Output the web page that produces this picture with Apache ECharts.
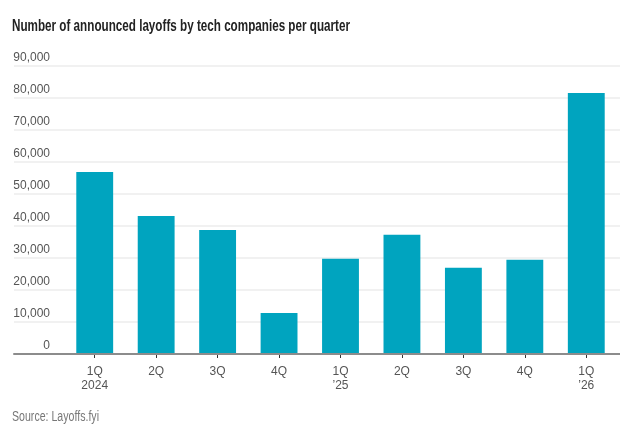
<!DOCTYPE html>
<html><head><meta charset="utf-8">
<script src="https://cdn.jsdelivr.net/npm/echarts@6/dist/echarts.min.js"></script>
<style>html,body{margin:0;padding:0;background:#fff}#c{width:620px;height:435px}</style>
</head><body><div id="c"></div>
<script>
const categories = ['1Q\n2024','2Q','3Q','4Q','1Q\n\u201925','2Q','3Q','4Q','1Q\n\u201926'];
const layoffs = [56800, 43100, 38700, 12800, 29700, 37200, 26900, 29400, 81500];
const yTicks = [0,10000,20000,30000,40000,50000,60000,70000,80000,90000];
const titleText = 'Number of announced layoffs by tech companies per quarter';
const sourceText = 'Source: Layoffs.fyi';

const FONT = '"Liberation Sans", Arial, sans-serif';
const ctx = document.createElement('canvas').getContext('2d');
function fitScale(text, font, w){ ctx.font = font; return w / ctx.measureText(text).width; }
const titleFont = 'bold 17px ' + FONT;
const srcFont = '14px ' + FONT;

const chart = echarts.init(document.getElementById('c'), null, {renderer:'canvas'});
const TOP = 65.7, BOTTOM = 81;
chart.setOption({
  animation:false,
  backgroundColor:'#fff',
  graphic:[
    {type:'text', x:12, y:18, scaleX:fitScale(titleText, titleFont, 338),
     style:{text:titleText, font:titleFont, fill:'#222', verticalAlign:'top'}},
    {type:'text', x:12, y:410, scaleX:fitScale(sourceText, srcFont, 87),
     style:{text:sourceText, font:srcFont, fill:'#777', verticalAlign:'top'}}
  ],
  grid:[
    {left:14, right:0, top:TOP, bottom:BOTTOM},
    {left:64, right:3, top:TOP, bottom:BOTTOM}
  ],
  xAxis:[
    {gridIndex:0, type:'value', min:0, max:1, axisLabel:{show:false}, axisTick:{show:false},
     splitLine:{show:false}, axisLine:{show:true, onZero:true, lineStyle:{color:'#8c8c8c', width:2}}, z:5},
    {gridIndex:1, type:'category', data:categories,
     axisLine:{show:false},
     axisTick:{show:true, alignWithLabel:true, length:4, lineStyle:{color:'#333', width:1}},
     axisLabel:{fontFamily:FONT, fontSize:12, color:'#555', lineHeight:14, margin:11, interval:0}}
  ],
  yAxis:[
    {gridIndex:0, type:'value', min:0, max:90000, interval:10000,
     axisLine:{show:false}, axisTick:{show:false},
     splitLine:{show:true, lineStyle:{color:'#ececec', width:1.5}},
     axisLabel:{fontFamily:FONT, fontSize:12, color:'#555', margin:-36, align:'right', verticalAlign:'bottom', padding:[0,0,2,0],
       formatter:v=>yTicks.includes(v)?v.toLocaleString('en-US'):''}},
    {gridIndex:1, type:'value', min:0, max:90000, interval:10000, show:false, splitLine:{show:false}}
  ],
  series:[{
    type:'bar', xAxisIndex:1, yAxisIndex:1, data:layoffs, barWidth:'60%',
    itemStyle:{color:'#00a4bf'}
  }]
});
</script></body></html>
